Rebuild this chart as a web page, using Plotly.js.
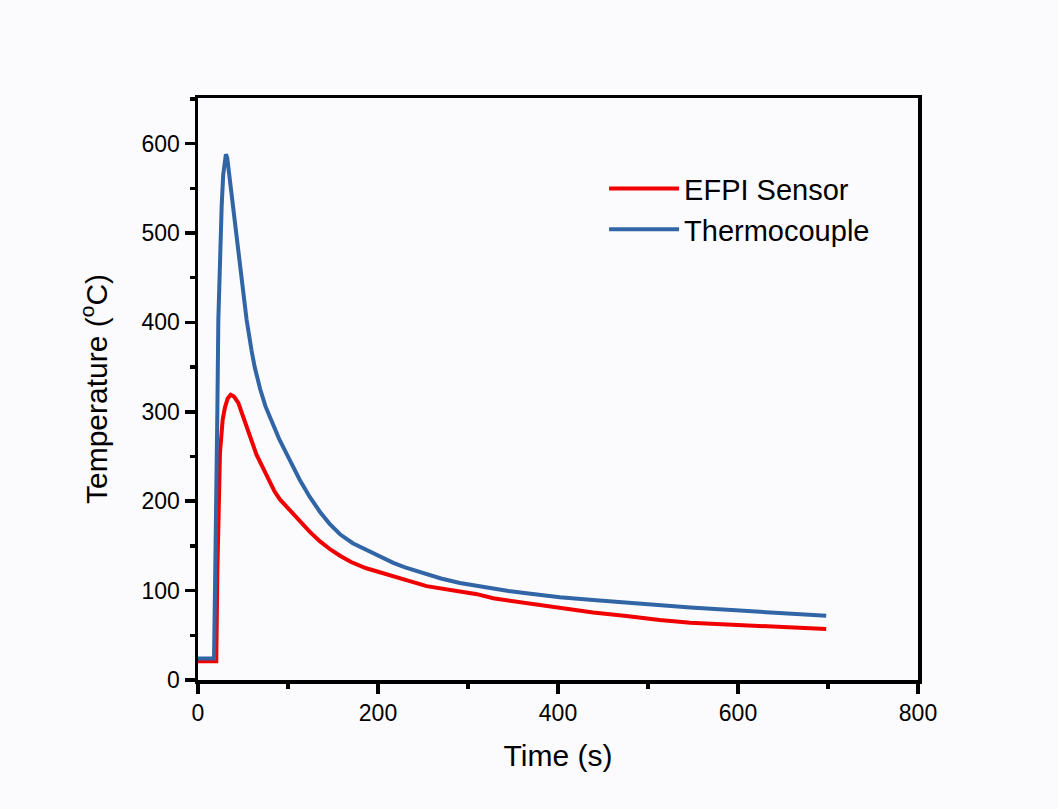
<!DOCTYPE html>
<html>
<head>
<meta charset="utf-8">
<script src="https://cdn.plot.ly/plotly-3.0.1.min.js"></script>
<style>html,body{margin:0;padding:0;background:#fbfbfd;}</style>
</head>
<body>
<div id="chart" style="width:1058px;height:809px;"></div>
<script>
// Thermocouple readings
const tcTime = [0, 10, 17.8, 19, 20.5, 21.5, 22.6, 23.7, 25, 26.3, 28, 29.5, 31, 32.5, 34, 36, 38.5, 43, 47.8, 51, 54, 56.5, 59.6, 63, 68.9, 75, 81.9, 90, 98.5, 105, 113, 124, 135.6, 146, 157.8, 172, 187, 200, 217, 230, 247, 270, 291, 310, 328, 345, 365, 383, 402, 439, 476, 513, 547, 602, 658, 698];
const tcTemp = [24, 24, 24, 110, 200, 300, 403, 455, 495, 530, 565, 582, 588, 584, 572, 552, 530, 492, 455, 428, 403, 386, 368, 350, 326, 306, 289, 270, 253, 240, 224, 205, 188, 175, 163, 153, 145.5, 139, 131, 126, 120.5, 113.5, 108.5, 105, 102.3, 99.6, 97, 94.6, 92.5, 89.5, 86.5, 83.6, 81, 77.6, 74.6, 72];
// EFPI sensor readings
const efTime = [0, 10, 20.3, 21.5, 22.6, 24.4, 27.4, 30, 33, 36.3, 40, 44.8, 50, 57.8, 65, 73.3, 80, 85, 91, 100, 113, 124, 135.6, 147, 157.8, 170, 187, 217, 254, 291, 310, 328, 365, 391, 402, 439, 476, 513, 547, 602, 658, 698];
const efTemp = [21, 21, 21, 120, 201, 254, 291, 305, 315, 319, 317, 310, 295, 272, 252, 235, 220, 211, 202, 192, 179, 166, 155, 146, 139, 132, 125, 116, 105, 99, 96, 91.4, 85.8, 82.8, 80.2, 75.4, 71.6, 67, 64, 61.6, 59.3, 57];

const xTicks = [0, 200, 400, 600, 800];
const yTicks = [0, 100, 200, 300, 400, 500, 600];

const font = "Liberation Sans, Arial, sans-serif";

const traces = [
  {x: efTime, y: efTemp, type: 'scatter', mode: 'lines', name: 'EFPI Sensor',
   line: {color: '#f00000', width: 4}, legendgroup: 'a'},
  {x: tcTime, y: tcTemp, type: 'scatter', mode: 'lines', name: 'Thermocouple',
   line: {color: '#3165a6', width: 4}, legendgroup: 'b'}
];

const axisCommon = {
  showline: true, linecolor: '#000', linewidth: 3.5, mirror: true,
  ticks: 'outside', ticklen: 10, tickwidth: 3.5, tickcolor: '#000',
  showgrid: false, zeroline: false,
  tickfont: {family: font, size: 23, color: '#000'},
  minor: {ticks: 'outside', ticklen: 5, tickwidth: 3.5, tickcolor: '#000', showgrid: false}
};

const layout = {
  width: 1058, height: 809,
  paper_bgcolor: '#fbfbfd', plot_bgcolor: '#fbfbfd',
  margin: {l: 198, r: 140, t: 98, b: 129},
  showlegend: true,
  legend: {x: 0.564, y: 0.888, xanchor: 'left', yanchor: 'top',
           bgcolor: 'rgba(0,0,0,0)', font: {family: font, size: 29, color: '#000'},
           itemwidth: 70, tracegroupgap: 0},
  xaxis: Object.assign({}, axisCommon, {
    range: [0, 800], tickvals: xTicks, ticktext: xTicks.map(String),
    minor: Object.assign({}, axisCommon.minor, {dtick: 100, tick0: 0}),
    title: {text: 'Time (s)', font: {family: font, size: 30, color: '#000'}, standoff: 21}
  }),
  yaxis: Object.assign({}, axisCommon, {
    range: [0, 651], tickvals: yTicks, ticktext: yTicks.map(String),
    minor: Object.assign({}, axisCommon.minor, {dtick: 50, tick0: 0}),
    title: {text: 'Temperature (<sup>o</sup>C)', font: {family: font, size: 30, color: '#000'}, standoff: 26}
  })
};

Plotly.newPlot('chart', traces, layout, {displayModeBar: false, staticPlot: true});
</script>
</body>
</html>
